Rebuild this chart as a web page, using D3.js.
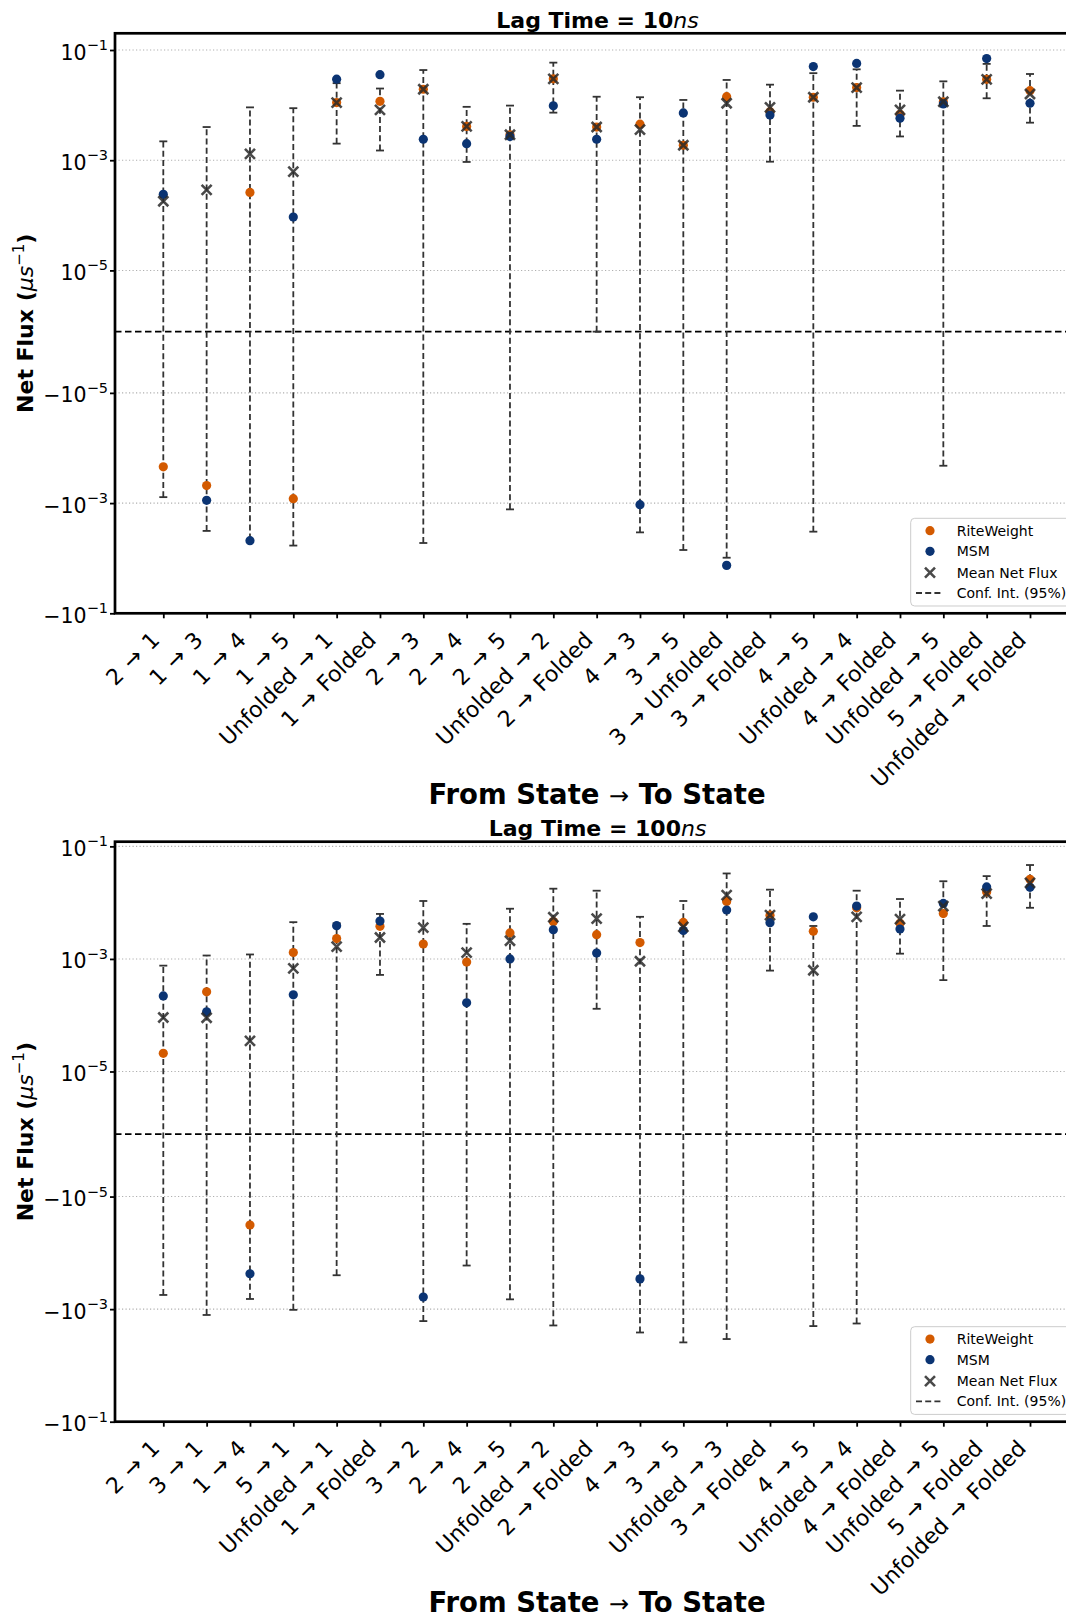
<!DOCTYPE html>
<html>
<head>
<meta charset="utf-8">
<script src="https://cdn.jsdelivr.net/npm/d3@7"></script>
<style>
  html, body { margin: 0; padding: 0; background: #fff; }
  svg { display: block; font-family: "DejaVu Sans", sans-serif; }
</style>
</head>
<body>
<svg id="chart" width="1066" height="1616"></svg>
<script>
// ---- Data: net flux between states (µs^-1) at two lag times ----
const categories10 = ["2 → 1","1 → 3","1 → 4","1 → 5","Unfolded → 1","1 → Folded","2 → 3","2 → 4","2 → 5","Unfolded → 2","2 → Folded","4 → 3","3 → 5","3 → Unfolded","3 → Folded","4 → 5","Unfolded → 4","4 → Folded","Unfolded → 5","5 → Folded","Unfolded → Folded"];
const riteweight10 = [-2.2e-4, -4.8e-4, 2.6e-4, -8.3e-4, 0.0111, 0.0117, 0.0194, 4.1e-3, 2.9e-3, 0.030, 4.0e-3, 4.5e-3, 1.87e-3, 0.0142, 7.6e-3, 0.0139, 0.0208, 6.8e-3, 0.0115, 0.0294, 0.0183];
const msm10 = [2.4e-4, -8.9e-4, -4.8e-3, 9.3e-5, 0.0296, 0.0357, 2.4e-3, 2.0e-3, 2.7e-3, 9.7e-3, 2.4e-3, -1.07e-3, 7.2e-3, -0.0135, 6.6e-3, 0.050, 0.057, 5.8e-3, 0.0105, 0.070, 0.0108];
const meanFlux10 = [1.8e-4, 2.9e-4, 1.3e-3, 6.2e-4, 0.0111, 8.2e-3, 0.0194, 4.1e-3, 2.9e-3, 0.030, 4.0e-3, 3.6e-3, 1.87e-3, 0.0108, 9.1e-3, 0.0139, 0.0208, 8.2e-3, 0.0115, 0.0294, 0.0159];
const ciLow10 = [-7.8e-4, -3.2e-3, -4.6e-3, -5.9e-3, 2.0e-3, 1.5e-3, -5.3e-3, 9.3e-4, -1.3e-3, 7.3e-3, 0, -3.4e-3, -7.1e-3, -9.8e-3, 9.4e-4, -3.3e-3, 4.2e-3, 2.7e-3, -2.1e-4, 0.0133, 4.8e-3];
const ciHigh10 = [2.2e-3, 4.0e-3, 9.1e-3, 8.8e-3, 0.025, 0.020, 0.0433, 9.3e-3, 9.8e-3, 0.059, 0.0142, 0.0139, 0.0124, 0.0286, 0.0235, 0.038, 0.0446, 0.0183, 0.027, 0.056, 0.0367];

const categories100 = ["2 → 1","3 → 1","1 → 4","5 → 1","Unfolded → 1","1 → Folded","3 → 2","2 → 4","2 → 5","Unfolded → 2","2 → Folded","4 → 3","3 → 5","Unfolded → 3","3 → Folded","4 → 5","Unfolded → 4","4 → Folded","Unfolded → 5","5 → Folded","Unfolded → Folded"];
const riteweight100 = [2.1e-5, 2.6e-4, -3.2e-5, 1.3e-3, 2.3e-3, 3.8e-3, 1.84e-3, 8.8e-4, 2.9e-3, 4.6e-3, 2.7e-3, 1.95e-3, 4.45e-3, 0.0105, 6.0e-3, 3.1e-3, 8.1e-3, 4.3e-3, 6.4e-3, 0.0155, 0.026];
const msm100 = [2.2e-4, 1.15e-4, -2.35e-4, 2.3e-4, 3.9e-3, 4.7e-3, -6.1e-4, 1.66e-4, 1.0e-3, 3.3e-3, 1.27e-3, -2.9e-4, 3.2e-3, 7.4e-3, 4.4e-3, 5.6e-3, 8.7e-3, 3.4e-3, 9.7e-3, 0.019, 0.0187];
const meanFlux100 = [9.1e-5, 9.0e-5, 3.5e-5, 6.8e-4, 1.65e-3, 2.4e-3, 3.6e-3, 1.29e-3, 2.1e-3, 5.5e-3, 5.2e-3, 9.1e-4, 3.7e-3, 0.0136, 6.0e-3, 6.3e-4, 5.6e-3, 5.1e-3, 8.7e-3, 0.0145, 0.0225];
const ciLow100 = [-5.6e-4, -1.27e-3, -6.6e-4, -1.03e-3, -2.5e-4, 5.2e-4, -1.63e-3, -1.68e-4, -6.7e-4, -1.95e-3, 1.3e-4, -2.6e-3, -3.9e-3, -3.4e-3, 6.2e-4, -2.0e-3, -1.8e-3, 1.24e-3, 4.2e-4, 3.85e-3, 8.1e-3];
const ciHigh100 = [7.6e-4, 1.15e-3, 1.2e-3, 4.5e-3, 4.3e-3, 6.3e-3, 0.0107, 4.2e-3, 7.8e-3, 0.0177, 0.0163, 5.6e-3, 0.0107, 0.033, 0.017, 3.85e-3, 0.0163, 0.0116, 0.024, 0.0296, 0.0466];

const yTickValues = [0.1, 1e-3, 1e-5, -1e-5, -1e-3, -0.1];

// ---- Styling ----
const ORANGE = "#d35a00";
const BLUE = "#0b3473";
const FONT = "DejaVu Sans";

// symmetric-log transform: linear within ±1e-5, log10 outside
const LINTHRESH = 1e-5;
const LINSCALE = 1 / (1 - 1 / 10);
function symlog(v) {
  const a = Math.abs(v);
  if (a <= LINTHRESH) return (v / LINTHRESH) * LINSCALE;
  return Math.sign(v) * (LINSCALE + Math.log10(a / LINTHRESH));
}

const svg = d3.select("#chart");

function drawPanel(cfg) {
  const g = svg.append("g");
  const left = 115, right = 1078;

  const x = d3.scalePoint().domain(cfg.cats).range([163.3, 1030]);
  const y = d3.scaleLinear()
    .domain([symlog(-0.1), symlog(cfg.ymax)])
    .range([cfg.bottom, cfg.top]);
  const Y = v => y(symlog(v));

  // dotted grid at major ticks
  g.append("g").selectAll("line").data(yTickValues.filter(v => v !== -0.1)).join("line")
    .attr("x1", left).attr("x2", right)
    .attr("y1", d => Y(d)).attr("y2", d => Y(d))
    .attr("stroke", "#b0b0b0").attr("stroke-width", 1.1)
    .attr("stroke-dasharray", "1.2,2.3");

  // zero reference line
  g.append("line")
    .attr("x1", left).attr("x2", right)
    .attr("y1", Y(0)).attr("y2", Y(0))
    .attr("stroke", "#000").attr("stroke-width", 1.8)
    .attr("stroke-dasharray", "6.5,3.5");

  const idx = d3.range(cfg.cats.length);

  // 95% confidence intervals
  const eb = g.append("g").attr("stroke", "#333").attr("stroke-width", 1.8);
  eb.selectAll("line.ci").data(idx).join("line").attr("class", "ci")
    .attr("x1", i => x(cfg.cats[i])).attr("x2", i => x(cfg.cats[i]))
    .attr("y1", i => Y(cfg.lo[i])).attr("y2", i => Y(cfg.hi[i]))
    .attr("stroke-dasharray", "6,3.2");
  ["lo", "hi"].forEach(k => {
    eb.selectAll("line.cap-" + k).data(idx).join("line").attr("class", "cap-" + k)
      .attr("x1", i => x(cfg.cats[i]) - 4).attr("x2", i => x(cfg.cats[i]) + 4)
      .attr("y1", i => Y(cfg[k][i])).attr("y2", i => Y(cfg[k][i]));
  });

  // RiteWeight and MSM estimates
  g.append("g").selectAll("circle").data(idx).join("circle")
    .attr("cx", i => x(cfg.cats[i])).attr("cy", i => Y(cfg.rite[i]))
    .attr("r", 4.6).attr("fill", ORANGE);
  g.append("g").selectAll("circle").data(idx).join("circle")
    .attr("cx", i => x(cfg.cats[i])).attr("cy", i => Y(cfg.msm[i]))
    .attr("r", 4.6).attr("fill", BLUE);

  // mean net flux markers
  const mk = g.append("g").attr("stroke", "#2a2a2a").attr("stroke-width", 2.6).attr("opacity", 0.85);
  idx.forEach(i => {
    const cx = x(cfg.cats[i]), cy = Y(cfg.mean[i]), s = 5;
    mk.append("path").attr("d", `M${cx - s},${cy - s}L${cx + s},${cy + s}M${cx - s},${cy + s}L${cx + s},${cy - s}`);
  });

  // y axis
  const yAxis = g.append("g").attr("transform", `translate(${left},0)`)
    .call(d3.axisLeft(y).tickValues(yTickValues.map(symlog)).tickSize(5).tickFormat(""));
  yAxis.select(".domain").remove();
  yAxis.selectAll(".tick line").attr("stroke", "#000").attr("stroke-width", 1.8);
  yAxis.selectAll(".tick").each(function(t, k) {
    const v = yTickValues[k];
    const exp = Math.round(Math.log10(Math.abs(v)));
    const txt = d3.select(this).append("text")
      .attr("x", -7).attr("y", 9).attr("text-anchor", "end")
      .attr("fill", "#000").attr("font-family", FONT).attr("font-size", 20.5);
    txt.append("tspan").text((v < 0 ? "−" : "") + "10");
    txt.append("tspan").attr("dy", -9.5).attr("font-size", 14.5).text("−" + Math.abs(exp));
  });

  // x axis with rotated state-transition labels
  const xAxis = g.append("g").attr("transform", `translate(0,${cfg.bottom})`)
    .call(d3.axisBottom(x).tickSize(5).tickFormat(""));
  xAxis.select(".domain").remove();
  xAxis.selectAll(".tick line").attr("stroke", "#000").attr("stroke-width", 1.8);
  xAxis.selectAll(".tick").append("text")
    .attr("text-anchor", "end")
    .attr("transform", "translate(-3,28) rotate(-45)")
    .attr("fill", "#000").attr("font-family", FONT).attr("font-size", 22)
    .attr("word-spacing", 2)
    .text(d => d);

  // axes frame
  g.append("rect")
    .attr("x", left).attr("y", cfg.top)
    .attr("width", right - left).attr("height", cfg.bottom - cfg.top)
    .attr("fill", "none").attr("stroke", "#000").attr("stroke-width", 2.7);

  // title
  const title = g.append("text")
    .attr("x", 597.5).attr("y", cfg.top - 5.5).attr("text-anchor", "middle")
    .attr("font-family", FONT).attr("font-size", 22).attr("font-weight", "bold");
  title.append("tspan").text("Lag Time = " + cfg.lag);
  title.append("tspan").attr("font-style", "italic").attr("font-weight", "normal").text("ns");

  // axis labels
  const yl = g.append("text")
    .attr("transform", `translate(33,${(cfg.top + cfg.bottom) / 2}) rotate(-90)`)
    .attr("text-anchor", "middle").attr("font-family", FONT)
    .attr("font-size", 22).attr("font-weight", "bold");
  yl.append("tspan").text("Net Flux (");
  yl.append("tspan").attr("font-style", "italic").attr("font-weight", "normal").text("μs");
  yl.append("tspan").attr("font-weight", "normal").attr("font-size", 15).attr("dy", -9).text("−1");
  yl.append("tspan").attr("dy", 9).text(")");

  const xl = g.append("text")
    .attr("x", 597).attr("y", cfg.bottom + 190.7).attr("text-anchor", "middle")
    .attr("font-family", FONT).attr("font-size", 27.5).attr("font-weight", "bold");
  xl.append("tspan").text("From State ");
  xl.append("tspan").attr("font-weight", "normal").attr("font-size", 24).text("→");
  xl.append("tspan").text(" To State");

  // legend
  const lg = g.append("g").attr("transform", `translate(910.7,${cfg.bottom - 95})`);
  lg.append("rect").attr("width", 185).attr("height", 87.7).attr("rx", 4)
    .attr("fill", "#fff").attr("fill-opacity", 0.85)
    .attr("stroke", "#cccccc").attr("stroke-width", 1);
  const rows = [12.4, 33, 54.4, 74.7];
  const names = ["RiteWeight", "MSM", "Mean Net Flux", "Conf. Int. (95%)"];
  lg.append("circle").attr("cx", 19.3).attr("cy", rows[0]).attr("r", 4.6).attr("fill", ORANGE);
  lg.append("circle").attr("cx", 19.3).attr("cy", rows[1]).attr("r", 4.6).attr("fill", BLUE);
  lg.append("path")
    .attr("d", `M14.3,${rows[2] - 5}L24.3,${rows[2] + 5}M14.3,${rows[2] + 5}L24.3,${rows[2] - 5}`)
    .attr("stroke", "#2a2a2a").attr("stroke-width", 2.6).attr("opacity", 0.85);
  lg.append("line").attr("x1", 5.3).attr("x2", 32.6).attr("y1", rows[3]).attr("y2", rows[3])
    .attr("stroke", "#333").attr("stroke-width", 1.8).attr("stroke-dasharray", "6,3.2");
  lg.selectAll("text").data(names).join("text")
    .attr("x", 46).attr("y", (d, i) => rows[i] + 5)
    .attr("font-family", FONT).attr("font-size", 14).attr("fill", "#000")
    .text(d => d);
}

drawPanel({
  cats: categories10, rite: riteweight10, msm: msm10, mean: meanFlux10,
  lo: ciLow10, hi: ciHigh10, top: 33.3, bottom: 613.3, ymax: 0.201, lag: "10"
});
drawPanel({
  cats: categories100, rite: riteweight100, msm: msm100, mean: meanFlux100,
  lo: ciLow100, hi: ciHigh100, top: 841.7, bottom: 1421.7, ymax: 0.121, lag: "100"
});
</script>
</body>
</html>
